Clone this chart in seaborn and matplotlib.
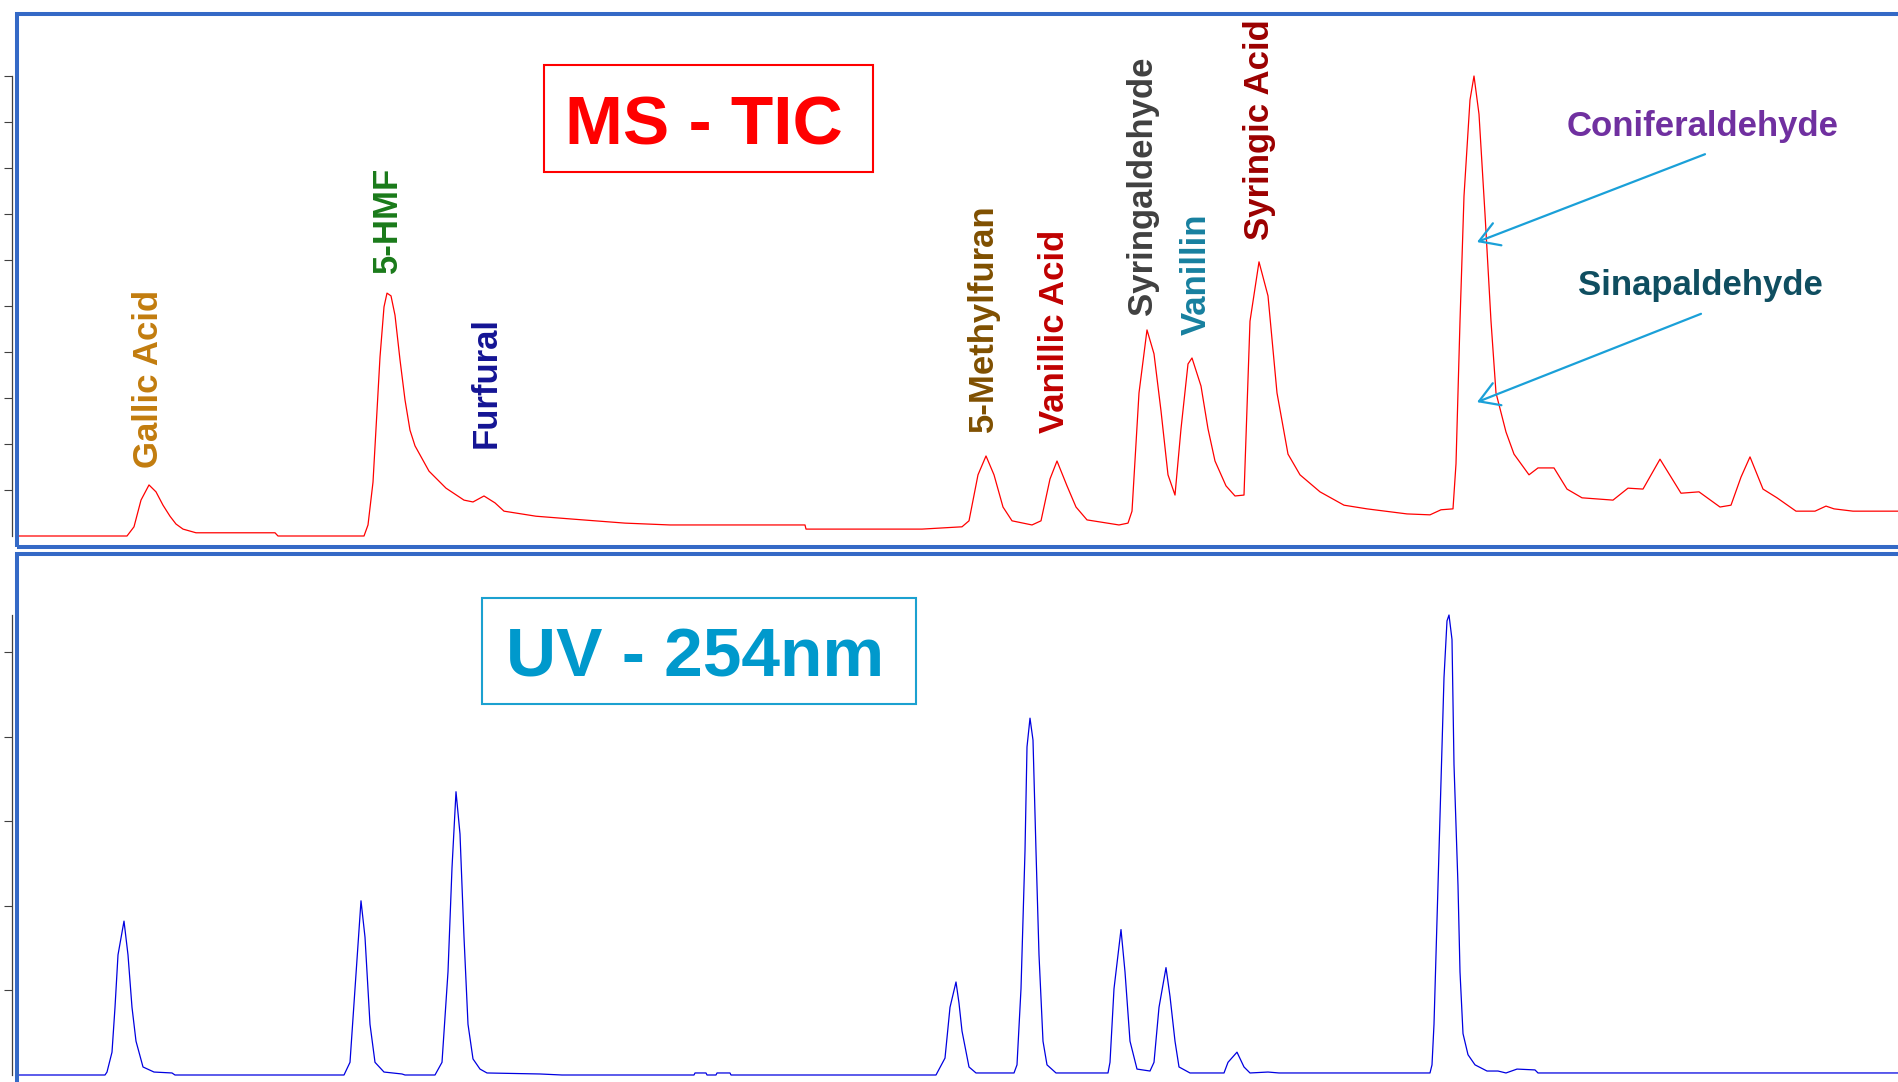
import numpy as np
import matplotlib
matplotlib.use("Agg")
import matplotlib.pyplot as plt
from matplotlib.patches import Rectangle
import seaborn as sns

# MS total ion current, % of the tallest peak, against scan number
ms_scan = [19, 127, 134, 141, 149, 156, 163, 170, 176, 183, 196, 275, 278, 364, 368, 373, 377, 380,
           384, 387, 391, 395, 400, 405, 410, 415, 429, 446, 464, 473, 484, 495, 504, 536, 571, 625,
           670, 717, 805, 806, 922, 962, 969, 978, 986, 994, 1003, 1012, 1032, 1041, 1050, 1057,
           1067, 1076, 1087, 1119, 1128, 1132, 1139, 1147, 1154, 1161, 1168, 1175, 1181, 1188, 1192,
           1201, 1208, 1215, 1226, 1235, 1244, 1250, 1259, 1268, 1277, 1288, 1300, 1320, 1344, 1367,
           1407, 1430, 1441, 1453, 1456, 1460, 1464, 1470, 1474, 1479, 1485, 1491, 1496, 1506, 1514,
           1529, 1538, 1554, 1567, 1582, 1613, 1628, 1643, 1660, 1681, 1699, 1720, 1731, 1741, 1750,
           1763, 1777, 1796, 1815, 1826, 1834, 1853, 1898]
ms_tic = [0, 0, 2.0, 7.8, 11.1, 9.6, 6.7, 4.3, 2.6, 1.5, 0.7, 0.7, 0, 0, 2.4, 11.7, 27.2, 38.9,
          49.8, 52.8, 52.2, 48.0, 38.3, 29.6, 23.0, 19.6, 14.1, 10.4, 7.8, 7.4, 8.7, 7.2, 5.4, 4.3, 3.7, 2.8,
          2.4, 2.4, 2.4, 1.5, 1.5, 2.0, 3.3, 13.3, 17.4, 13.3, 6.3, 3.3, 2.4, 3.3, 12.4, 16.3,
          10.9, 6.3, 3.5, 2.4, 2.8, 5.4, 31.1, 44.8, 39.6, 27.2, 13.3, 8.9, 23.3, 37.4, 38.7,
          32.6, 23.3, 16.3, 10.9, 8.7, 8.9, 46.7, 59.6, 52.2, 31.1, 17.8, 13.3, 9.6, 6.7, 5.9,
          4.8, 4.6, 5.7, 5.9, 15.7, 46.7, 73.9, 94.8, 100, 91.7, 70.0, 46.7, 31.1, 22.6, 17.8,
          13.3, 14.8, 14.8, 10.2, 8.3, 7.8, 10.4, 10.2, 16.7, 9.3, 9.6, 6.3, 6.7, 12.8, 17.2,
          10.2, 8.3, 5.4, 5.4, 6.5, 5.9, 5.4, 5.4]

# UV absorbance at 254 nm (mAU)
uv_scan = [19, 105, 107, 112, 115, 118, 124, 128, 132, 136, 143, 154, 172, 175, 344, 350, 355, 361,
           365, 370, 375, 384, 402, 405, 435, 442, 448, 452, 456, 460, 464, 468, 473, 480, 487, 540,
           562, 694, 695, 706, 707, 716, 717, 730, 731, 936, 945, 950, 956, 959, 962, 969, 976, 1014,
           1017, 1021, 1025, 1027, 1030, 1033, 1036, 1039, 1043, 1047, 1056, 1108, 1110, 1114, 1121,
           1125, 1130, 1137, 1150, 1154, 1159, 1166, 1170, 1175, 1179, 1190, 1224, 1228, 1237, 1244,
           1250, 1268, 1279, 1430, 1432, 1434, 1437, 1441, 1444, 1447, 1449, 1452, 1454, 1458, 1460,
           1463, 1468, 1475, 1487, 1498, 1506, 1517, 1535, 1538, 1898]
uv_mau = [0, 0, 3.5, 27, 80, 142, 182, 142, 80, 40, 9.5, 3.5, 2.4, 0, 0, 15, 102, 206,
          163, 60, 15, 3.5, 1.2, 0, 0, 15, 122, 245, 335, 285, 163, 60, 19, 7, 2.4, 1.2,
          0, 0, 2.4, 2.4, 0, 0, 2.4, 2.4, 0, 0, 20, 80, 110, 85, 52, 9.5, 2.4, 2.4,
          12, 102, 265, 388, 422, 396, 265, 142, 40, 12, 2.4, 2.4, 15, 102, 172,
          122, 40, 7, 4.7, 15, 80, 127, 93, 40, 9.5, 2.4, 2.4, 15, 27, 9.5,
          2.4, 3.5, 2.4, 2.4, 12, 60, 183, 347, 470, 537, 544, 515, 367, 224, 122,
          49, 24, 12, 4.7, 4.7, 2.4, 7, 6, 2.4, 2.4]

# vertical peak labels: name, scan, height where the label starts (%), colour
peak_names = ["Gallic Acid", "5-HMF", "Furfural", "5-Methylfuran", "Vanillic Acid",
              "Syringaldehyde", "Vanillin", "Syringic Acid"]
peak_scans = [148, 387, 486, 983, 1054, 1143, 1196, 1260]
label_base = [14.8, 57.2, 19.1, 22.6, 22.4, 48.0, 43.7, 64.3]
label_colors = ["#C27C0E", "#1A7A1A", "#141494", "#7F4F00", "#C00000",
                "#404040", "#17809F", "#9B0000"]

sns.set_style("white")
plt.rcParams['font.family'] = ['Liberation Sans', 'DejaVu Sans']

W, H = 1898, 1082
fig = plt.figure(figsize=(W / 100, H / 100), dpi=100)

def box(x0, y0, x1, y1):
    return [x0 / W, 1 - y1 / H, (x1 - x0) / W, (y1 - y0) / H]

ax1 = fig.add_axes(box(12.3, 76, W, 536))
ax2 = fig.add_axes(box(12.3, 615, W, 1075))

sns.lineplot(x=ms_scan, y=ms_tic, ax=ax1, color="#FF0000", linewidth=0.9,
             estimator=None, sort=False)
sns.lineplot(x=uv_scan, y=uv_mau, ax=ax2, color="#0000E0", linewidth=0.9,
             estimator=None, sort=False)

ax1.set_ylim(0, max(ms_tic))
ax2.set_ylim(0, max(uv_mau))
ax1.set_yticks(np.arange(10, 101, 10))
ax2.set_yticks([100, 200, 300, 400, 500])
for ax in (ax1, ax2):
    ax.set_xlim(12.3, W)
    ax.set_xticks([])
    ax.patch.set_alpha(0)
    for s in ("top", "right", "bottom"):
        ax.spines[s].set_visible(False)
    ax.spines["left"].set_color("#404040")
    ax.spines["left"].set_linewidth(0.9)
    ax.tick_params(axis="y", left=True, direction="out", length=6, width=0.8,
                   color="#404040", labelleft=False)
    for line in ax.lines:
        line.set_clip_on(False)

for name, x, y, c in zip(peak_names, peak_scans, label_base, label_colors):
    ax1.text(x, y, name, rotation=90, ha="center", va="bottom", color=c,
             fontsize=25, fontweight="bold")

ax1.text(1703, 87.0, "Coniferaldehyde", ha="center", va="baseline", color="#7030A0",
         fontsize=25, fontweight="bold")
ax1.text(1700, 52.4, "Sinapaldehyde", ha="center", va="baseline", color="#0F4E60",
         fontsize=25, fontweight="bold")
arrow = dict(arrowstyle="->,head_length=1.4,head_width=0.85", color="#1AA0D8", lw=1.6,
             shrinkA=0, shrinkB=0, mutation_scale=10)
ax1.annotate("", xy=(1477, 63.9), xytext=(1705, 83.0), arrowprops=arrow)
ax1.annotate("", xy=(1477, 29.1), xytext=(1701, 48.3), arrowprops=arrow)

# detector title boxes
fig.add_artist(Rectangle(box(544, 65, 873, 172)[:2], 329 / W, 107 / H, fill=False,
                         ec="#FF0000", lw=1.5, transform=fig.transFigure))
fig.text(704 / W, 1 - 144.6 / H, "MS - TIC", ha="center", va="baseline", color="#FF0000",
         fontsize=50, fontweight="bold")
fig.add_artist(Rectangle(box(482, 598, 916, 704)[:2], 434 / W, 106 / H, fill=False,
                         ec="#1BA1D0", lw=1.5, transform=fig.transFigure))
fig.text(695 / W, 1 - 676.5 / H, "UV - 254nm", ha="center", va="baseline", color="#0099CC",
         fontsize=50, fontweight="bold")

# blue panel frames
fig.add_artist(Rectangle(box(17, 13.5, 1930, 546.5)[:2], 1913 / W, 533 / H, fill=False,
                         ec="#3469C6", lw=2.9, transform=fig.transFigure))
fig.add_artist(Rectangle(box(17, 553.5, 1930, 1110)[:2], 1913 / W, 556.5 / H, fill=False,
                         ec="#3469C6", lw=2.9, transform=fig.transFigure))

fig.savefig("out.png", dpi=100, facecolor="white")
